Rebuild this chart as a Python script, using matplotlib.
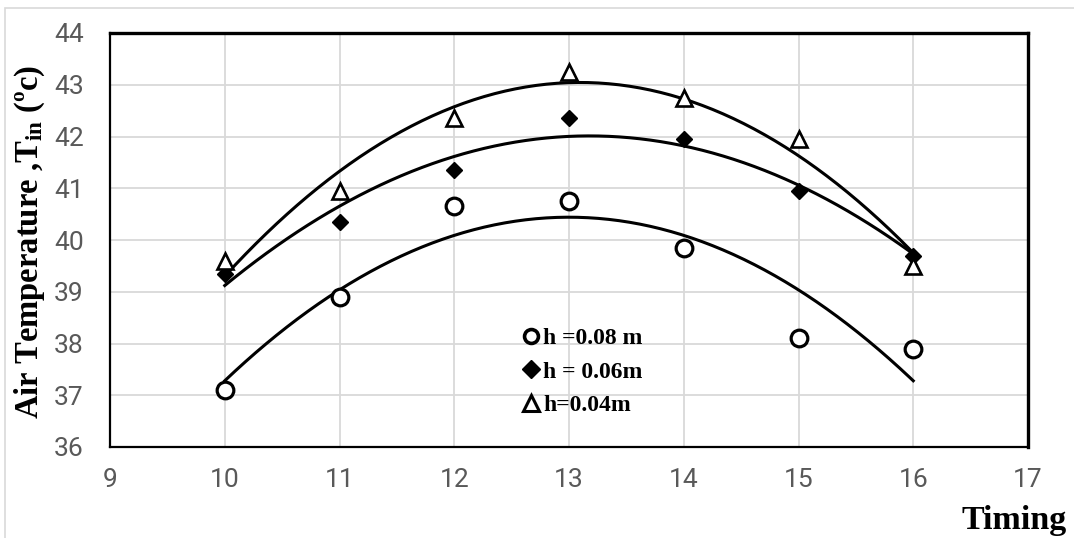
import numpy as np
import matplotlib
matplotlib.use("Agg")
import matplotlib.pyplot as plt
from matplotlib.lines import Line2D
from matplotlib.patches import Rectangle

# ---- data ----
timing = [10, 11, 12, 13, 14, 15, 16]
t_h008 = [37.1, 38.9, 40.65, 40.75, 39.85, 38.1, 37.9]
t_h006 = [39.35, 40.35, 41.35, 42.35, 41.95, 40.95, 39.7]
t_h004 = [39.6, 40.95, 42.35, 43.25, 42.75, 41.95, 39.5]

x_ticks = [9, 10, 11, 12, 13, 14, 15, 16, 17]
y_ticks = [36, 37, 38, 39, 40, 41, 42, 43, 44]
labels = ["h =0.08 m", "h = 0.06m", "h=0.04m"]

SERIF = ["Liberation Serif", "DejaVu Serif"]
TICK_C = "#595959"
plt.rcParams.update({
    "mathtext.fontset": "custom",
    "mathtext.rm": "Liberation Serif:bold",
    "mathtext.bf": "Liberation Serif:bold",
    "mathtext.it": "Liberation Serif:bold",
})

W, H = 1074, 538
fig = plt.figure(figsize=(W / 100, H / 100), dpi=100)
ax = fig.add_axes([110 / W, 1 - 447 / H, (1028 - 110) / W, (447 - 33) / H])

# outer chart border (only top/left visible in the reference crop)
fig.patches.append(Rectangle((5 / W, -0.05), 1.1, (538 - 8) / H + 0.05,
                             transform=fig.transFigure, fill=False,
                             ec="#d9d9d9", lw=1.2))

series = [
    (t_h008, dict(marker="o", ms=12, mfc="white", mec="black", mew=2.3)),
    (t_h006, dict(marker="D", ms=8.2, mfc="black", mec="black", mew=1.0)),
    (t_h004, dict(marker="^", ms=12, mfc="white", mec="black", mew=1.9)),
]
xs = np.linspace(min(timing), max(timing), 200)
for ys, style in series:
    # Excel-style 2nd order polynomial trendline
    c = np.polyfit(timing, ys, 2)
    ax.plot(xs, np.polyval(c, xs), color="black", lw=2.2, zorder=3)
    ax.plot(timing, ys, ls="none", zorder=4, **style)

ax.set_xlim(9, 17)
ax.set_ylim(36, 44)
ax.set_xticks(x_ticks)
ax.set_yticks(y_ticks)
ax.grid(True, color="#d9d9d9", lw=1.3)
ax.set_axisbelow(True)
ax.tick_params(length=0, labelsize=19, labelcolor=TICK_C)
ax.tick_params(axis="y", pad=19)
ax.tick_params(axis="x", pad=15)
for lab in ax.get_xticklabels() + ax.get_yticklabels():
    lab.set_family(["Roboto", "DejaVu Sans"])

for s in ["top", "right"]:
    ax.spines[s].set_linewidth(2.4)
for s in ["left", "bottom"]:
    ax.spines[s].set_linewidth(1.6)
for s in ax.spines.values():
    s.set_color("black")

fig.text(30 / W, 1 - 242 / H, "Air Temperature ,T$_{\\mathrm{in}}$ (ºc)",
         family=SERIF, fontsize=23.5, fontweight="bold", rotation=90,
         ha="center", va="center")
fig.text(1067 / W, 1 - 520 / H, "Timing", family=SERIF, fontsize=24.5,
         fontweight="bold", ha="right", va="center")

handles = [
    Line2D([], [], ls="none", marker="o", ms=10, mfc="white", mec="black", mew=2.6),
    Line2D([], [], ls="none", marker="D", ms=9, mfc="black", mec="black"),
    Line2D([], [], ls="none", marker="^", ms=11, mfc="white", mec="black", mew=2.2),
]
ax.legend(handles, labels, loc="center left",
          bbox_to_anchor=(522 / W, 1 - 372 / H),
          bbox_transform=fig.transFigure,
          frameon=False, handlelength=0.75, handletextpad=0.15,
          labelspacing=0.5, borderaxespad=0, borderpad=0,
          prop={"family": SERIF, "weight": "bold", "size": 17})

fig.savefig("out.png", dpi=100)
